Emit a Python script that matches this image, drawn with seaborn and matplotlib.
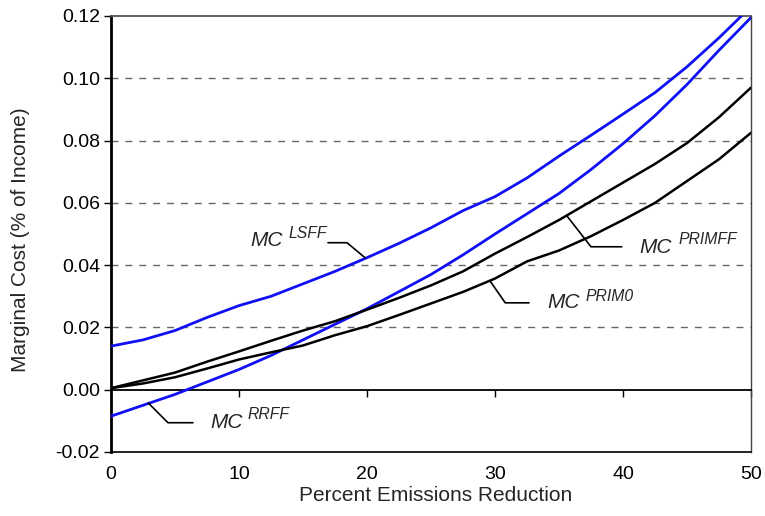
import matplotlib
matplotlib.use("Agg")
import matplotlib.pyplot as plt
import seaborn as sns
import pandas as pd
from matplotlib.ticker import FormatStrFormatter

# ---- data ----
reduction = [0, 2.5, 5, 7.5, 10, 12.5, 15, 17.5, 20, 22.5, 25, 27.5, 30,
             32.5, 35, 37.5, 40, 42.5, 45, 47.5, 50]
mc_lsff = [0.014, 0.016, 0.019, 0.0232, 0.027, 0.030, 0.034, 0.038, 0.0424,
           0.047, 0.052, 0.0575, 0.062, 0.068, 0.075, 0.0817, 0.0885, 0.0954,
           0.1037, 0.113, 0.123]
mc_rrff = [-0.0085, -0.005, -0.0015, 0.0025, 0.0065, 0.011, 0.016, 0.021,
           0.026, 0.0315, 0.037, 0.0433, 0.050, 0.0565, 0.063, 0.0707, 0.079,
           0.088, 0.098, 0.109, 0.1195]
mc_primff = [0.0005, 0.003, 0.0055, 0.009, 0.0123, 0.0157, 0.019, 0.022,
             0.0257, 0.0295, 0.0335, 0.038, 0.0437, 0.049, 0.0545, 0.0605,
             0.0665, 0.0725, 0.0792, 0.0875, 0.097]
mc_prim0 = [0.0005, 0.002, 0.004, 0.0068, 0.0097, 0.012, 0.0142, 0.0175,
            0.0204, 0.024, 0.0277, 0.0314, 0.0357, 0.0412, 0.0447, 0.0493,
            0.0545, 0.060, 0.067, 0.074, 0.0825]
series_names = ["LSFF", "RRFF", "PRIMFF", "PRIM0"]
x_ticks = [0, 10, 20, 30, 40, 50]
y_ticks = [-0.02, 0.00, 0.02, 0.04, 0.06, 0.08, 0.10, 0.12]

df = pd.concat([
    pd.DataFrame({"x": reduction, "y": vals, "series": name})
    for name, vals in zip(series_names, [mc_lsff, mc_rrff, mc_primff, mc_prim0])
])

sns.set_style("white")
plt.rcParams["font.family"] = ["Liberation Sans", "DejaVu Sans"]
plt.rcParams["axes.unicode_minus"] = False

fig = plt.figure(figsize=(7.65, 5.16), dpi=100)
ax = fig.add_axes([111 / 765, 1 - 452 / 516, 640 / 765, 436 / 516])

palette = {"LSFF": "#1010f5", "RRFF": "#1010f5", "PRIMFF": "black", "PRIM0": "black"}
sizes = {"LSFF": 2.0, "RRFF": 2.0, "PRIMFF": 1.8, "PRIM0": 1.8}
sns.lineplot(data=df, x="x", y="y", hue="series", size="series", sizes=sizes,
             palette=palette, legend=False, ax=ax, zorder=3)

ax.set_xlim(0, 50)
ax.set_ylim(-0.02, 0.12)

# dashed gridlines
for yv in [0.02, 0.04, 0.06, 0.08, 0.10]:
    ax.axhline(yv, color="#666666", lw=1.0, ls=(0, (5, 5)), zorder=1)

# spines
ax.spines["left"].set_linewidth(2.0)
ax.spines["left"].set_color("black")
ax.spines["right"].set_linewidth(1.0)
ax.spines["right"].set_color("#444444")
ax.spines["top"].set_linewidth(1.3)
ax.spines["top"].set_color("#555555")
ax.spines["bottom"].set_position(("data", 0))
ax.spines["bottom"].set_linewidth(1.3)
ax.spines["bottom"].set_color("black")
ax.plot([0, 1], [0, 0], transform=ax.transAxes, color="black", lw=1.2,
        clip_on=False, zorder=4)

ax.set_xticks(x_ticks)
ax.set_yticks(y_ticks)
ax.yaxis.set_major_formatter(FormatStrFormatter("%.2f"))
ax.tick_params(axis="y", direction="out", length=5, width=1, left=True,
               labelsize=14, pad=3, colors="black")
ax.tick_params(axis="x", direction="out", length=5, width=1, bottom=True,
               labelsize=14, pad=50, colors="black")

ax.set_xlabel("Percent Emissions Reduction", fontsize=15)
ax.set_ylabel("Marginal Cost (% of Income)", fontsize=15)
ax.xaxis.set_label_coords(0.507, -0.078)
ax.yaxis.set_label_coords(-0.127, 0.486)

# curve labels with leader lines
labels = [
    ("LSFF", (10.86, 0.0462), (13.9, 0.0488),
     [16.95, 18.44, 19.84], [0.0472, 0.0472, 0.0424]),
    ("PRIMFF", (41.25, 0.0440), (44.37, 0.0469),
     [35.6, 37.5, 39.9], [0.0559, 0.0459, 0.0459]),
    ("PRIM0", (34.06, 0.0263), (37.1, 0.0286),
     [29.6, 30.8, 32.66], [0.035, 0.0279, 0.0279]),
    ("RRFF", (7.73, -0.0122), (10.7, -0.0093),
     [2.9, 4.45, 6.4], [-0.0042, -0.0106, -0.0106]),
]
for sup, mc_pos, sup_pos, lx, ly in labels:
    ax.text(*mc_pos, "MC", fontsize=15, style="italic", ha="left",
            va="baseline", zorder=5)
    ax.text(*sup_pos, sup, fontsize=11.3, style="italic", ha="left",
            va="baseline", zorder=5)
    ax.plot(lx, ly, color="black", lw=1.2, zorder=4, clip_on=False)

fig.savefig("out.png", dpi=100)
